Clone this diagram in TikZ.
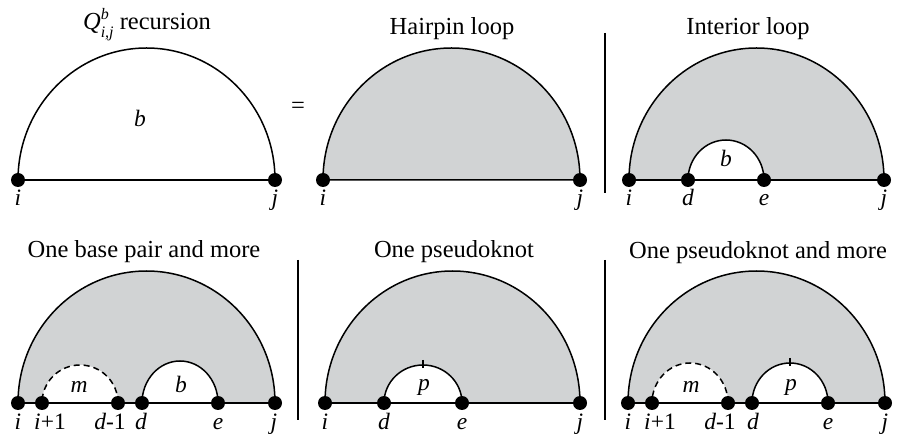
\documentclass[tikz,border=0pt]{standalone}
\usepackage{amsmath}
\usepackage{fontspec}
\setmainfont{Liberation Serif}
\definecolor{loopgray}{RGB}{209,211,212}
\tikzset{
  arcline/.style={line width=1.5pt},
  divline/.style={line width=1.3pt},
  dot/.style={circle,fill=black,inner sep=0pt,minimum size=14pt},
  lab/.style={anchor=base,inner sep=0pt,font=\fontsize{23.5}{27}\selectfont},
  ttl/.style={anchor=base,inner sep=0pt,font=\fontsize{24.5}{28}\selectfont},
}
\newcommand{\scriptfnt}{\fontsize{16}{16}\selectfont}
\begin{document}
\begin{tikzpicture}[x=1pt,y=-1pt]
\useasboundingbox (0,0) rectangle (903,438);

% ---------------- coordinates ----------------
\coordinate (Ai) at (18,180);  \coordinate (Aj) at (275,180);
\coordinate (Bi) at (323,180); \coordinate (Bj) at (580,180);
\coordinate (Ci) at (629,180); \coordinate (Cd) at (688,180); \coordinate (Ce) at (764,180); \coordinate (Cj) at (884,180);
\coordinate (Di) at (18,403);  \coordinate (Di1) at (42,403); \coordinate (Ddm) at (118,403); \coordinate (Dd) at (142,403); \coordinate (De) at (218,403); \coordinate (Dj) at (275,403);
\coordinate (Ei) at (325,403); \coordinate (Ed) at (384,403); \coordinate (Ee) at (462,403); \coordinate (Ej) at (580,403);
\coordinate (Fi) at (628,403); \coordinate (Fi1) at (652,403); \coordinate (Fdm) at (728,403); \coordinate (Fd) at (752,403); \coordinate (Fe) at (828,403); \coordinate (Fj) at (885,403);

% ---------------- panel A ----------------
\draw[arcline] (Aj) arc[start angle=0,end angle=180,x radius=128.5pt,y radius=132pt];
\draw[arcline] (Ai) -- (Aj);
\node[ttl] (tA) at (147,30) {\textit{Q}\rlap{\raisebox{10pt}{\scriptfnt\textit{b}}}\raisebox{-8pt}{\scriptfnt\textit{i,j}} recursion};
\node[lab] (lAb) at (140,127) {\textit{b}};
\node[ttl,anchor=center] (eq) at (298,108) {=};

% ---------------- panel B ----------------
\draw[arcline,fill=loopgray] (Bj) arc[start angle=0,end angle=180,x radius=128.5pt,y radius=132pt] -- cycle;
\node[ttl] (tB) at (452,35) {Hairpin loop};

% ---------------- divider ----------------
\coordinate (v1a) at (605,33); \coordinate (v1b) at (605,193);
\draw[divline] (v1a) -- (v1b);

% ---------------- panel C ----------------
\draw[arcline,fill=loopgray] (Cj) arc[start angle=0,end angle=180,x radius=127.5pt,y radius=132pt] -- cycle;
\draw[arcline,fill=white] (Ce) arc[start angle=0,end angle=180,x radius=38pt,y radius=40pt] -- cycle;
\draw[arcline] (Ci) -- (Cj);
\node[ttl] (tC) at (748,35) {Interior loop};
\node[lab] (lCb) at (726,167) {\textit{b}};

% ---------------- panel D ----------------
\draw[arcline,fill=loopgray] (Dj) arc[start angle=0,end angle=180,x radius=128.5pt,y radius=132pt] -- cycle;
\fill[white] (Ddm) arc[start angle=0,end angle=180,x radius=38pt,y radius=38pt] -- cycle;
\draw[arcline,dashed,dash pattern=on 6pt off 4pt] (Ddm) arc[start angle=0,end angle=180,x radius=38pt,y radius=38pt];
\draw[arcline,fill=white] (De) arc[start angle=0,end angle=180,x radius=38pt,y radius=42pt] -- cycle;
\draw[arcline] (Di) -- (Dj);
\node[ttl] (tD) at (144,258) {One base pair and more};
\node[lab] (lDm) at (79,393) {\textit{m}};
\node[lab] (lDb) at (181,393) {\textit{b}};

% ---------------- divider ----------------
\coordinate (v2a) at (298,260); \coordinate (v2b) at (298,420);
\draw[divline] (v2a) -- (v2b);

% ---------------- panel E ----------------
\draw[arcline,fill=loopgray] (Ej) arc[start angle=0,end angle=180,x radius=127.5pt,y radius=132pt] -- cycle;
\draw[arcline,fill=white] (Ee) arc[start angle=0,end angle=180,x radius=39pt,y radius=38pt] -- cycle;
\coordinate (Ep) at (423,365);
\draw[line width=1.2pt] ([yshift=5pt]Ep) -- ([yshift=-3pt]Ep);
\draw[arcline] (Ei) -- (Ej);
\node[ttl] (tE) at (454,258) {One pseudoknot};
\node[lab] (lEp) at (424,391) {\textit{p}};

% ---------------- divider ----------------
\coordinate (v3a) at (605,260); \coordinate (v3b) at (605,420);
\draw[divline] (v3a) -- (v3b);

% ---------------- panel F ----------------
\draw[arcline,fill=loopgray] (Fj) arc[start angle=0,end angle=180,x radius=128.5pt,y radius=132pt] -- cycle;
\fill[white] (Fdm) arc[start angle=0,end angle=180,x radius=38pt,y radius=40pt] -- cycle;
\draw[arcline,dashed,dash pattern=on 6pt off 4pt] (Fdm) arc[start angle=0,end angle=180,x radius=38pt,y radius=40pt];
\draw[arcline,fill=white] (Fe) arc[start angle=0,end angle=180,x radius=38pt,y radius=40pt] -- cycle;
\coordinate (Fp) at (790,363);
\draw[line width=1.2pt] ([yshift=5pt]Fp) -- ([yshift=-3pt]Fp);
\draw[arcline] (Fi) -- (Fj);
\node[ttl] (tF) at (758,259) {One pseudoknot and more};
\node[lab] (lFm) at (691,393) {\textit{m}};
\node[lab] (lFp) at (791,391) {\textit{p}};

% ---------------- dots ----------------
\foreach \p in {Ai,Aj,Bi,Bj,Ci,Cd,Ce,Cj,Di,Di1,Ddm,Dd,De,Dj,Ei,Ed,Ee,Ej,Fi,Fi1,Fdm,Fd,Fe,Fj}
  \node[dot] (dot\p) at (\p) {};

% ---------------- point labels ----------------
\node[lab] (lAi) at (18,206) {\textit{i}};
\node[lab] (lAj) at (275,206) {\textit{j}};
\node[lab] (lBi) at (323,206) {\textit{i}};
\node[lab] (lBj) at (580,206) {\textit{j}};
\node[lab] (lCi) at (629,206) {\textit{i}};
\node[lab] (lCd) at (688,206) {\textit{d}};
\node[lab] (lCe) at (764,206) {\textit{e}};
\node[lab] (lCj) at (884,206) {\textit{j}};
\node[lab] (lDi) at (18,429) {\textit{i}};
\node[lab] (lDi1) at (50,429) {\textit{i}+1};
\node[lab] (lDdm) at (110,429) {\textit{d}-1};
\node[lab] (lDd) at (141,429) {\textit{d}};
\node[lab] (lDe) at (218,429) {\textit{e}};
\node[lab] (lDj) at (274,429) {\textit{j}};
\node[lab] (lEi) at (325,429) {\textit{i}};
\node[lab] (lEd) at (384,429) {\textit{d}};
\node[lab] (lEe) at (462,429) {\textit{e}};
\node[lab] (lEj) at (580,429) {\textit{j}};
\node[lab] (lFi) at (628,429) {\textit{i}};
\node[lab] (lFi1) at (660,429) {\textit{i}+1};
\node[lab] (lFdm) at (720,429) {\textit{d}-1};
\node[lab] (lFd) at (753,429) {\textit{d}};
\node[lab] (lFe) at (828,429) {\textit{e}};
\node[lab] (lFj) at (885,429) {\textit{j}};
\end{tikzpicture}
\end{document}
